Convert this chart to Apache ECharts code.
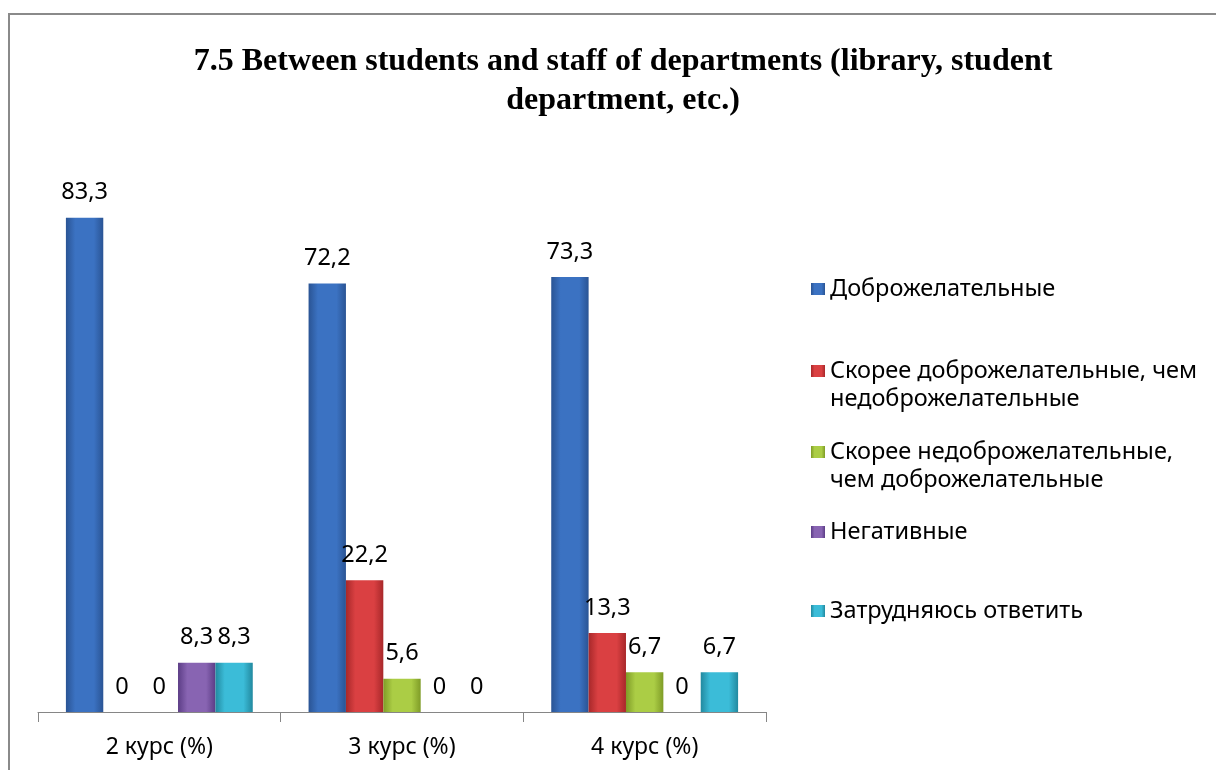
<!DOCTYPE html>
<html>
<head>
<meta charset="utf-8">
<script src="https://cdn.jsdelivr.net/npm/echarts@6/dist/echarts.min.js"></script>
<style>
  html, body { margin: 0; padding: 0; background: #fff; }
  #main { width: 1216px; height: 770px; }
</style>
</head>
<body>
<div id="main"></div>
<script>
const titleText = "7.5 Between students and staff of departments (library, student\ndepartment, etc.)";
const categories = ["2 курс (%)", "3 курс (%)", "4 курс (%)"];
const seriesNames = [
  "Доброжелательные",
  "Скорее доброжелательные, чем\nнедоброжелательные",
  "Скорее недоброжелательные,\nчем доброжелательные",
  "Негативные",
  "Затрудняюсь ответить",
];
const friendly = [83.3, 72.2, 73.3];
const ratherFriendly = [0, 22.2, 13.3];
const ratherUnfriendly = [0, 5.6, 6.7];
const negative = [8.3, 0, 0];
const hardToSay = [8.3, 0, 6.7];
const seriesValues = [friendly, ratherFriendly, ratherUnfriendly, negative, hardToSay];

// [edge, middle] colours for a bevel-ish look
const palette = [
  ["#2a5494", "#3b72c2"],
  ["#a8282a", "#da4042"],
  ["#7f9c27", "#abcd45"],
  ["#5c3d86", "#8864b2"],
  ["#22899f", "#3bbcd8"],
];
const legendTops = [275, 329, 410, 518, 597];

const font = "'Noto Sans', 'Open Sans', sans-serif";

const grad = (c) => new echarts.graphic.LinearGradient(0, 0, 1, 0, [
  { offset: 0, color: c[0] },
  { offset: 0.25, color: c[1] },
  { offset: 0.75, color: c[1] },
  { offset: 1, color: c[0] },
]);

const chart = echarts.init(document.getElementById("main"));
chart.setOption({
  animation: false,
  graphic: [{
    type: "rect",
    shape: { x: 9, y: 14, width: 1240, height: 800 },
    style: { fill: "none", stroke: "#8a8a8a", lineWidth: 2 },
    silent: true,
  }],
  title: {
    text: titleText,
    left: 618,
    top: 37,
    textAlign: "center",
    textStyle: {
      fontFamily: "'Liberation Serif', 'Times New Roman', serif",
      fontWeight: "bold",
      fontSize: 32,
      lineHeight: 39,
      color: "#000",
    },
  },
  // one legend per entry so the spacing can follow the original
  legend: seriesNames.map((name, i) => ({
    data: [name],
    orient: "vertical",
    left: 811,
    top: legendTops[i],
    padding: 0,
    itemWidth: 14,
    itemHeight: 12,
    itemGap: 0,
    icon: "rect",
    selectedMode: false,
    // leading blank line keeps the marker level with the first text line
    formatter: (n) => (n.indexOf("\n") >= 0 ? " \n" + n : n),
    textStyle: {
      fontFamily: font,
      fontSize: 23.5,
      lineHeight: 28,
      color: "#000",
    },
  })),
  grid: { left: 38, right: 450, top: 178, bottom: 58, containLabel: false },
  xAxis: {
    type: "category",
    data: categories,
    axisLine: { lineStyle: { color: "#868686", width: 1 } },
    axisTick: { show: true, length: 10, lineStyle: { color: "#868686" } },
    axisLabel: { fontFamily: font, fontSize: 23, color: "#000", margin: 24 },
  },
  yAxis: {
    type: "value",
    min: 0,
    max: 90,
    show: false,
    splitLine: { show: false },
  },
  series: seriesNames.map((name, i) => ({
    name,
    type: "bar",
    data: seriesValues[i],
    barGap: "0%",
    barCategoryGap: "23%",
    itemStyle: { color: grad(palette[i]) },
    label: {
      show: true,
      position: "top",
      distance: 13,
      fontFamily: font,
      fontSize: 23.5,
      color: "#000",
      formatter: (p) => String(p.value).replace(".", ","),
    },
  })),
});
</script>
</body>
</html>
